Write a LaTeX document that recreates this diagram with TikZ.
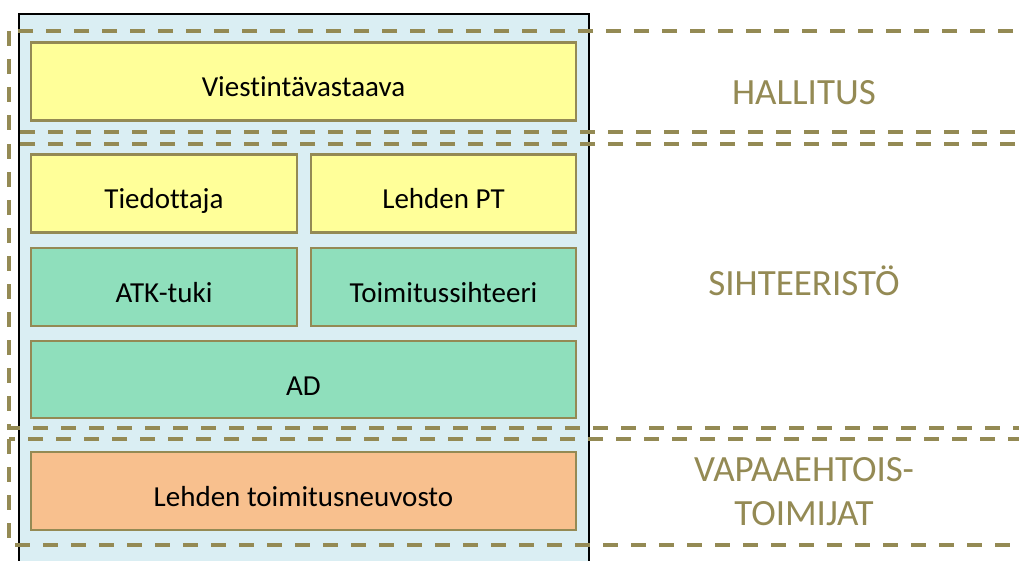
\documentclass[tikz,border=0pt]{standalone}
\usepackage{fontspec}
\setmainfont{Carlito}[Ligatures={NoCommon,NoRare},RawFeature={-liga;-dlig}]
\definecolor{olv}{HTML}{948A54}
\definecolor{ylw}{HTML}{FFFF99}
\definecolor{grn}{HTML}{8FDFBC}
\definecolor{org}{HTML}{F8C08E}
\definecolor{bgb}{HTML}{DAEEF3}
\tikzset{
  x=1pt,y=-1pt,
  unit/.style={draw=olv, line width=2.2pt, text=black, font=\fontsize{29}{32}\selectfont, inner sep=0pt, text height=31pt, text depth=0pt},
  ybox/.style={unit, fill=ylw},
  gbox/.style={unit, fill=grn},
  obox/.style={unit, fill=org},
  band/.style={draw=olv, line width=4.4pt, dash pattern=on 15pt off 13pt},
  bandlabel/.style={text=olv, font=\fontsize{37}{44}\selectfont, inner sep=0pt, anchor=base},
}
\begin{document}
\begin{tikzpicture}
\clip (0,0) rectangle (1019,561);
\fill[white] (0,0) rectangle (1019,561);
\draw[fill=bgb, draw=black, line width=1.8pt] (19,14) rectangle (589,580);
\node[ybox, minimum width=545, minimum height=78] (viest) at (303.5,81.5) {Viestintävastaava};
\node[ybox, minimum width=266, minimum height=78] (tied) at (164,193.5) {Tiedottaja};
\node[ybox, minimum width=265, minimum height=78] (lpt) at (443.5,193.5) {Lehden PT};
\node[gbox, minimum width=266, minimum height=78] (atk) at (164,287) {ATK-tuki};
\node[gbox, minimum width=265, minimum height=78] (tsih) at (443.5,287) {Toimitussihteeri};
\node[gbox, minimum width=545, minimum height=77] (ad) at (303.5,379.5) {AD};
\node[obox, minimum width=545, minimum height=78] (ltn) at (303.5,491) {Lehden toimitusneuvosto};
\draw[band] (9,31) rectangle (1040,132);
\draw[band] (9,144) rectangle (1040,428);
\draw[band] (9,439) rectangle (1040,545);
\node[bandlabel] (hall) at (804,105) {HALLITUS};
\node[bandlabel] (siht) at (804,295) {SIHTEERISTÖ};
\node[bandlabel] (vapa) at (804,481) {VAPAAEHTOIS-};
\node[bandlabel] (toim) at (804,525) {TOIMIJAT};
\end{tikzpicture}
\end{document}
